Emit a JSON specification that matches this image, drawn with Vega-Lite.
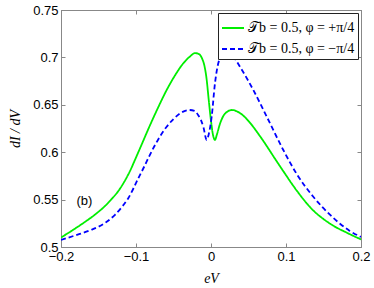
{
  "$schema": "https://vega.github.io/schema/vega-lite/v6.json",
  "width": 300,
  "height": 237,
  "autosize": {"type": "none"},
  "padding": {"left": 61, "top": 10, "right": 13, "bottom": 41},
  "background": "white",
  "config": {
    "view": {"stroke": "#888888", "strokeWidth": 1},
    "axis": {
      "domainColor": "#888888",
      "tickColor": "#888888",
      "tickSize": -4,
      "labelColor": "#000000",
      "labelFont": "Liberation Sans",
      "labelFontSize": 13,
      "labelFlush": false,
      "labelOverlap": false,
      "grid": false,
      "titleFont": "Liberation Serif",
      "titleFontStyle": "italic",
      "titleFontWeight": "normal",
      "titleFontSize": 14,
      "titleColor": "#000000"
    },
    "legend": {
      "orient": "top-right",
      "offset": 3,
      "strokeColor": "#222222",
      "fillColor": "white",
      "padding": 3,
      "rowPadding": 2,
      "labelFont": "Liberation Serif",
      "labelFontSize": 14,
      "labelColor": "#000000",
      "symbolType": "stroke",
      "symbolSize": 484,
      "symbolStrokeWidth": 2,
      "labelOffset": 3
    }
  },
  "layer": [
    {
      "data": {
        "values": [
          {"series": "𝒯b = 0.5, φ = +π/4", "eV": -0.2, "dIdV": 0.51},
          {"series": "𝒯b = 0.5, φ = +π/4", "eV": -0.185, "dIdV": 0.5175},
          {"series": "𝒯b = 0.5, φ = +π/4", "eV": -0.168, "dIdV": 0.5265},
          {"series": "𝒯b = 0.5, φ = +π/4", "eV": -0.155, "dIdV": 0.534},
          {"series": "𝒯b = 0.5, φ = +π/4", "eV": -0.141, "dIdV": 0.5435},
          {"series": "𝒯b = 0.5, φ = +π/4", "eV": -0.132, "dIdV": 0.551},
          {"series": "𝒯b = 0.5, φ = +π/4", "eV": -0.1236, "dIdV": 0.559},
          {"series": "𝒯b = 0.5, φ = +π/4", "eV": -0.117, "dIdV": 0.567},
          {"series": "𝒯b = 0.5, φ = +π/4", "eV": -0.1103, "dIdV": 0.5765},
          {"series": "𝒯b = 0.5, φ = +π/4", "eV": -0.0969, "dIdV": 0.6},
          {"series": "𝒯b = 0.5, φ = +π/4", "eV": -0.0813, "dIdV": 0.6285},
          {"series": "𝒯b = 0.5, φ = +π/4", "eV": -0.07, "dIdV": 0.648},
          {"series": "𝒯b = 0.5, φ = +π/4", "eV": -0.0591, "dIdV": 0.6656},
          {"series": "𝒯b = 0.5, φ = +π/4", "eV": -0.048, "dIdV": 0.681},
          {"series": "𝒯b = 0.5, φ = +π/4", "eV": -0.0369, "dIdV": 0.6938},
          {"series": "𝒯b = 0.5, φ = +π/4", "eV": -0.028, "dIdV": 0.701},
          {"series": "𝒯b = 0.5, φ = +π/4", "eV": -0.0213, "dIdV": 0.7045},
          {"series": "𝒯b = 0.5, φ = +π/4", "eV": -0.016, "dIdV": 0.7035},
          {"series": "𝒯b = 0.5, φ = +π/4", "eV": -0.012, "dIdV": 0.699},
          {"series": "𝒯b = 0.5, φ = +π/4", "eV": -0.009, "dIdV": 0.692},
          {"series": "𝒯b = 0.5, φ = +π/4", "eV": -0.006, "dIdV": 0.678},
          {"series": "𝒯b = 0.5, φ = +π/4", "eV": -0.003, "dIdV": 0.655},
          {"series": "𝒯b = 0.5, φ = +π/4", "eV": 0.0, "dIdV": 0.633},
          {"series": "𝒯b = 0.5, φ = +π/4", "eV": 0.003, "dIdV": 0.617},
          {"series": "𝒯b = 0.5, φ = +π/4", "eV": 0.0053, "dIdV": 0.613},
          {"series": "𝒯b = 0.5, φ = +π/4", "eV": 0.008, "dIdV": 0.619},
          {"series": "𝒯b = 0.5, φ = +π/4", "eV": 0.012, "dIdV": 0.63},
          {"series": "𝒯b = 0.5, φ = +π/4", "eV": 0.018, "dIdV": 0.64},
          {"series": "𝒯b = 0.5, φ = +π/4", "eV": 0.0276, "dIdV": 0.6445},
          {"series": "𝒯b = 0.5, φ = +π/4", "eV": 0.04, "dIdV": 0.6405},
          {"series": "𝒯b = 0.5, φ = +π/4", "eV": 0.052, "dIdV": 0.631},
          {"series": "𝒯b = 0.5, φ = +π/4", "eV": 0.063, "dIdV": 0.6195},
          {"series": "𝒯b = 0.5, φ = +π/4", "eV": 0.0743, "dIdV": 0.6065},
          {"series": "𝒯b = 0.5, φ = +π/4", "eV": 0.085, "dIdV": 0.5935},
          {"series": "𝒯b = 0.5, φ = +π/4", "eV": 0.0964, "dIdV": 0.58},
          {"series": "𝒯b = 0.5, φ = +π/4", "eV": 0.1143, "dIdV": 0.5595},
          {"series": "𝒯b = 0.5, φ = +π/4", "eV": 0.1364, "dIdV": 0.5385},
          {"series": "𝒯b = 0.5, φ = +π/4", "eV": 0.15, "dIdV": 0.5295},
          {"series": "𝒯b = 0.5, φ = +π/4", "eV": 0.163, "dIdV": 0.5225},
          {"series": "𝒯b = 0.5, φ = +π/4", "eV": 0.18, "dIdV": 0.5155},
          {"series": "𝒯b = 0.5, φ = +π/4", "eV": 0.2, "dIdV": 0.508},
          {"series": "𝒯b = 0.5, φ = −π/4", "eV": -0.2, "dIdV": 0.5075},
          {"series": "𝒯b = 0.5, φ = −π/4", "eV": -0.18, "dIdV": 0.5125},
          {"series": "𝒯b = 0.5, φ = −π/4", "eV": -0.16, "dIdV": 0.518},
          {"series": "𝒯b = 0.5, φ = −π/4", "eV": -0.14, "dIdV": 0.526},
          {"series": "𝒯b = 0.5, φ = −π/4", "eV": -0.128, "dIdV": 0.534},
          {"series": "𝒯b = 0.5, φ = −π/4", "eV": -0.118, "dIdV": 0.543},
          {"series": "𝒯b = 0.5, φ = −π/4", "eV": -0.1103, "dIdV": 0.5515},
          {"series": "𝒯b = 0.5, φ = −π/4", "eV": -0.0969, "dIdV": 0.5725},
          {"series": "𝒯b = 0.5, φ = −π/4", "eV": -0.088, "dIdV": 0.5865},
          {"series": "𝒯b = 0.5, φ = −π/4", "eV": -0.0813, "dIdV": 0.5975},
          {"series": "𝒯b = 0.5, φ = −π/4", "eV": -0.07, "dIdV": 0.614},
          {"series": "𝒯b = 0.5, φ = −π/4", "eV": -0.0591, "dIdV": 0.6269},
          {"series": "𝒯b = 0.5, φ = −π/4", "eV": -0.05, "dIdV": 0.635},
          {"series": "𝒯b = 0.5, φ = −π/4", "eV": -0.0413, "dIdV": 0.641},
          {"series": "𝒯b = 0.5, φ = −π/4", "eV": -0.029, "dIdV": 0.6445},
          {"series": "𝒯b = 0.5, φ = −π/4", "eV": -0.022, "dIdV": 0.6435},
          {"series": "𝒯b = 0.5, φ = −π/4", "eV": -0.017, "dIdV": 0.639},
          {"series": "𝒯b = 0.5, φ = −π/4", "eV": -0.0135, "dIdV": 0.634},
          {"series": "𝒯b = 0.5, φ = −π/4", "eV": -0.01, "dIdV": 0.626},
          {"series": "𝒯b = 0.5, φ = −π/4", "eV": -0.0058, "dIdV": 0.613},
          {"series": "𝒯b = 0.5, φ = −π/4", "eV": -0.003, "dIdV": 0.619},
          {"series": "𝒯b = 0.5, φ = −π/4", "eV": 0.0009, "dIdV": 0.6375},
          {"series": "𝒯b = 0.5, φ = −π/4", "eV": 0.0053, "dIdV": 0.6727},
          {"series": "𝒯b = 0.5, φ = −π/4", "eV": 0.0098, "dIdV": 0.694},
          {"series": "𝒯b = 0.5, φ = −π/4", "eV": 0.015, "dIdV": 0.702},
          {"series": "𝒯b = 0.5, φ = −π/4", "eV": 0.021, "dIdV": 0.705},
          {"series": "𝒯b = 0.5, φ = −π/4", "eV": 0.028, "dIdV": 0.7025},
          {"series": "𝒯b = 0.5, φ = −π/4", "eV": 0.0387, "dIdV": 0.69},
          {"series": "𝒯b = 0.5, φ = −π/4", "eV": 0.0564, "dIdV": 0.6656},
          {"series": "𝒯b = 0.5, φ = −π/4", "eV": 0.0743, "dIdV": 0.6375},
          {"series": "𝒯b = 0.5, φ = −π/4", "eV": 0.0964, "dIdV": 0.6023},
          {"series": "𝒯b = 0.5, φ = −π/4", "eV": 0.1143, "dIdV": 0.577},
          {"series": "𝒯b = 0.5, φ = −π/4", "eV": 0.1364, "dIdV": 0.553},
          {"series": "𝒯b = 0.5, φ = −π/4", "eV": 0.16, "dIdV": 0.533},
          {"series": "𝒯b = 0.5, φ = −π/4", "eV": 0.172, "dIdV": 0.5245},
          {"series": "𝒯b = 0.5, φ = −π/4", "eV": 0.185, "dIdV": 0.517},
          {"series": "𝒯b = 0.5, φ = −π/4", "eV": 0.2, "dIdV": 0.5105}
        ]
      },
      "mark": {"type": "line", "strokeWidth": 1.8, "interpolate": "monotone", "clip": true},
      "encoding": {
        "x": {
          "field": "eV", "type": "quantitative",
          "scale": {"domain": [-0.2, 0.2], "nice": false, "zero": false},
          "axis": {"values": [-0.2, -0.1, 0, 0.1, 0.2], "format": "~g", "title": "eV", "titlePadding": 8, "labelPadding": 7}
        },
        "y": {
          "field": "dIdV", "type": "quantitative",
          "scale": {"domain": [0.5, 0.75], "nice": false, "zero": false},
          "axis": {"values": [0.5, 0.55, 0.6, 0.65, 0.7, 0.75], "format": "~g", "title": "dI / dV", "titlePadding": 10, "labelPadding": 7}
        },
        "color": {
          "field": "series", "type": "nominal",
          "scale": {"domain": ["𝒯b = 0.5, φ = +π/4", "𝒯b = 0.5, φ = −π/4"], "range": ["#00ee00", "#0000ff"]},
          "legend": {"title": null}
        },
        "strokeDash": {
          "field": "series", "type": "nominal",
          "scale": {"domain": ["𝒯b = 0.5, φ = +π/4", "𝒯b = 0.5, φ = −π/4"], "range": [[1, 0], [5, 3]]},
          "legend": {"title": null}
        }
      }
    },
    {
      "data": {"values": [{"eV": -0.1687, "dIdV": 0.5485, "label": "(b)"}]},
      "mark": {"type": "text", "font": "Liberation Sans", "fontSize": 13, "color": "#000000"},
      "encoding": {
        "x": {
          "field": "eV", "type": "quantitative",
          "scale": {"domain": [-0.2, 0.2], "nice": false, "zero": false},
          "axis": {"orient": "top", "values": [-0.2, -0.1, 0, 0.1, 0.2], "labels": false, "title": null}
        },
        "y": {
          "field": "dIdV", "type": "quantitative",
          "scale": {"domain": [0.5, 0.75], "nice": false, "zero": false},
          "axis": {"orient": "right", "values": [0.5, 0.55, 0.6, 0.65, 0.7, 0.75], "labels": false, "title": null}
        },
        "text": {"field": "label"}
      }
    }
  ],
  "resolve": {"axis": {"x": "independent", "y": "independent"}}
}
